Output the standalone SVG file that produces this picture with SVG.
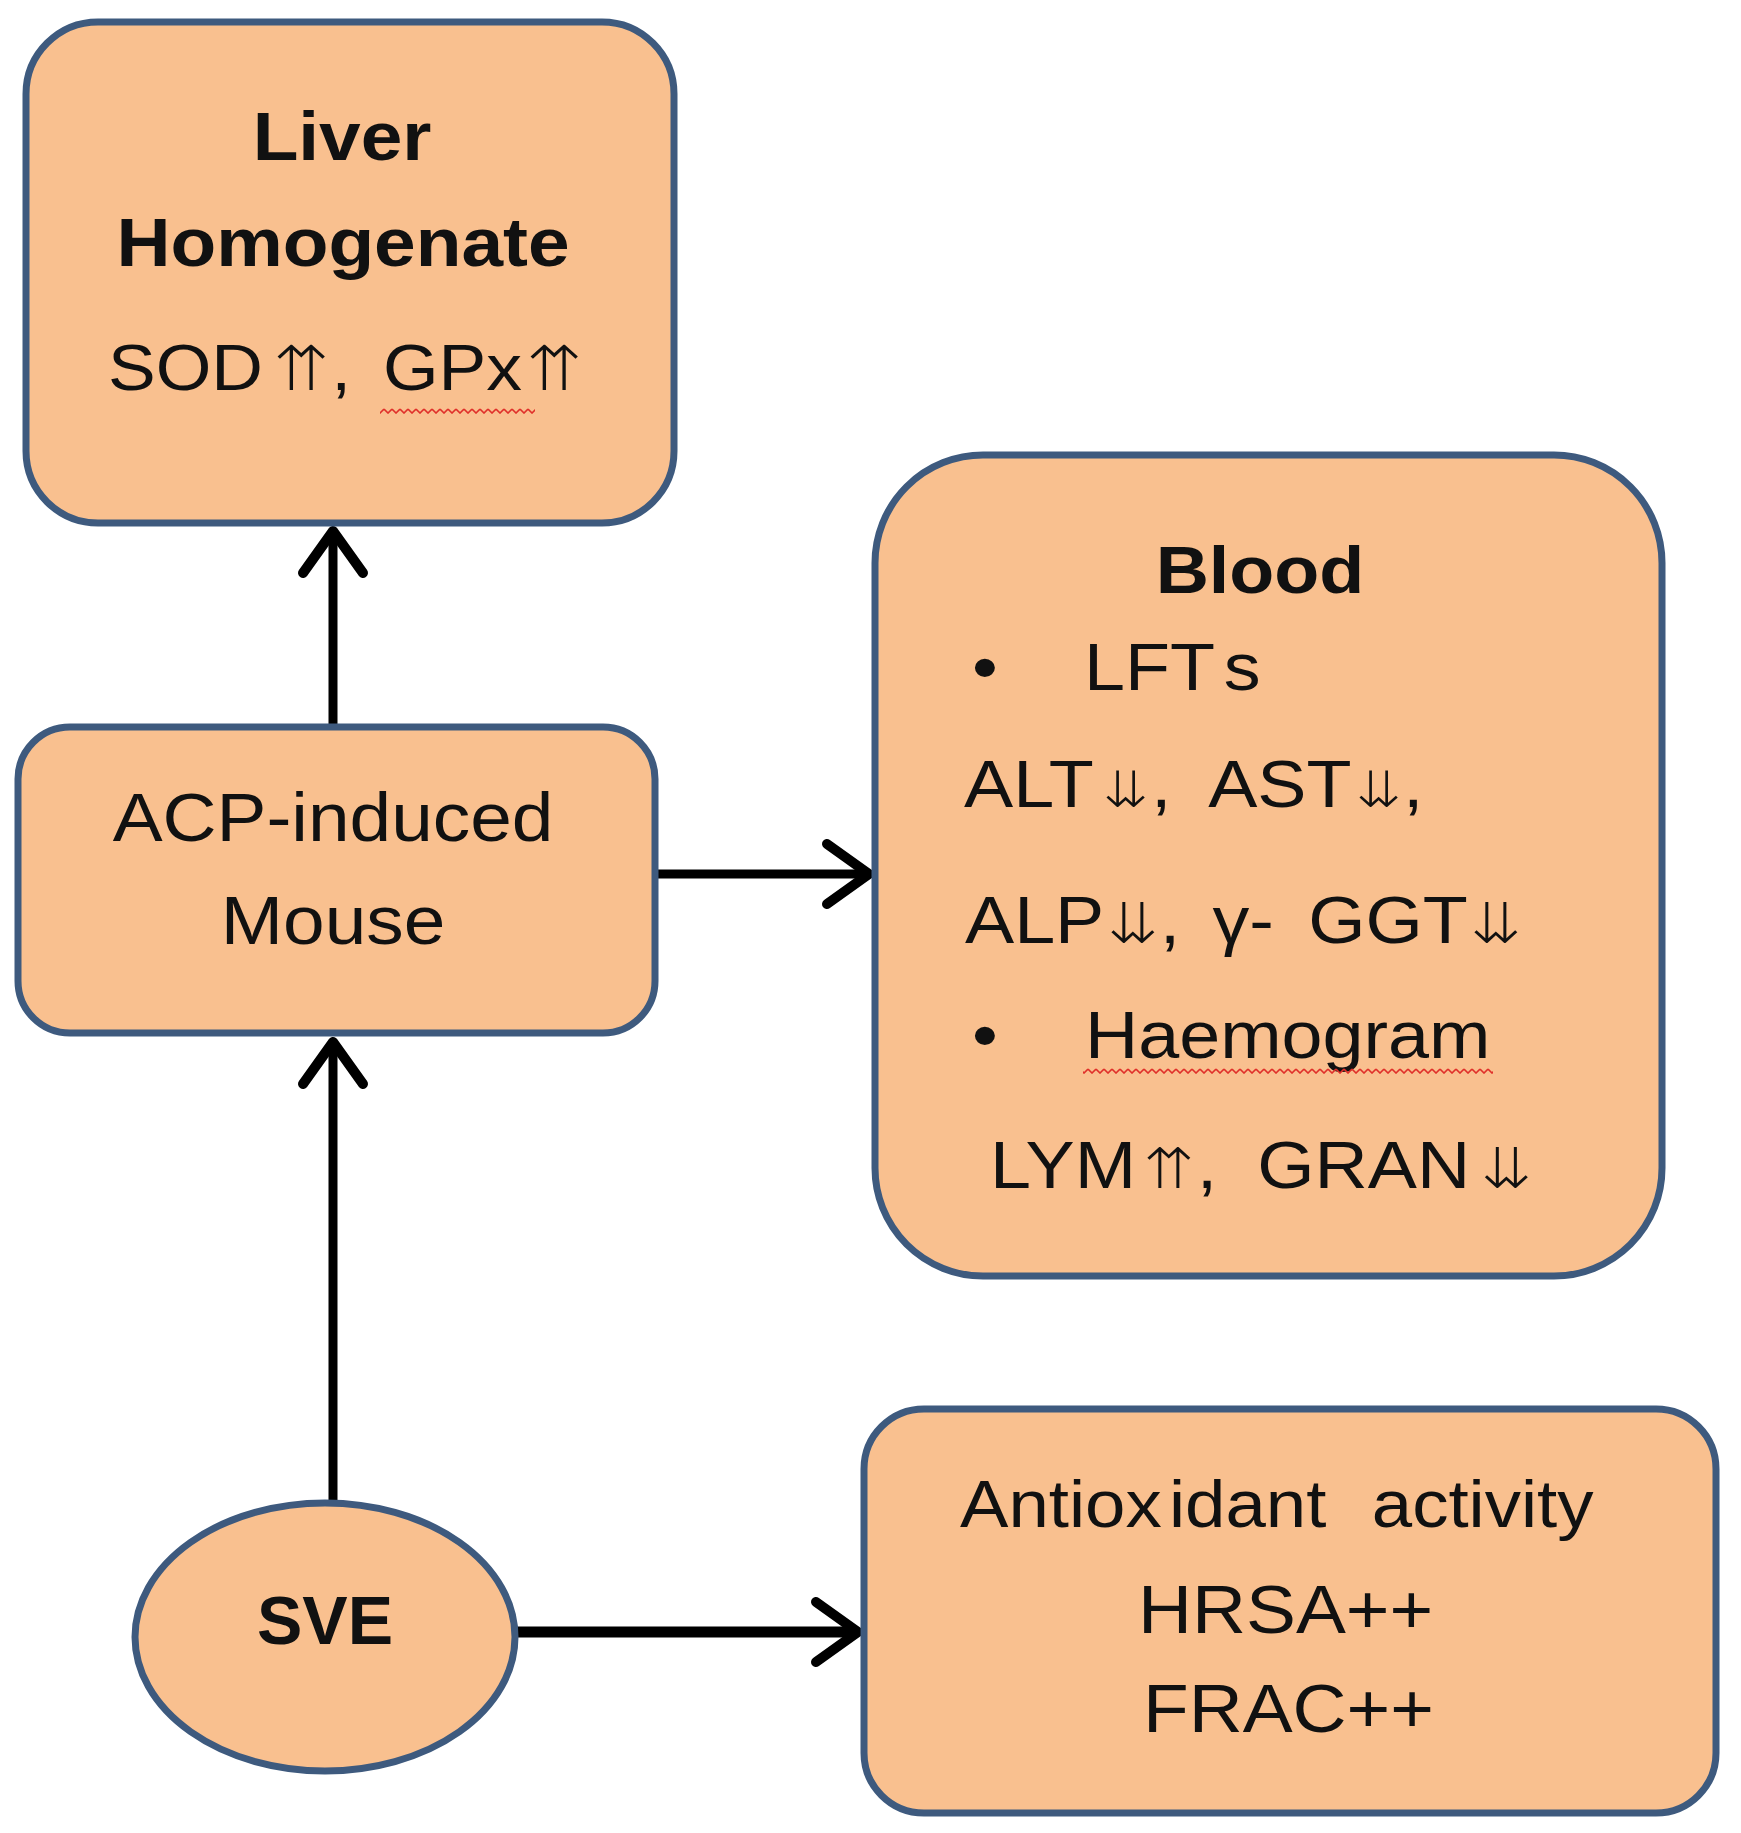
<svg xmlns="http://www.w3.org/2000/svg" width="1741" height="1833" viewBox="0 0 1741 1833">
<style>
.box{fill:#F9C08F;stroke:#3E5A7E;stroke-width:7}
.t{font-family:"Liberation Sans",Arial,sans-serif;fill:#111;font-size:67px}
.b{font-weight:bold}
.ar{font-family:"DejaVu Sans",sans-serif;font-size:56px;font-weight:200}
.sm{font-size:50px}
.lg{font-size:62px}
.con{fill:none;stroke:#000;stroke-width:9}
</style>
<defs>
<marker id="ah" markerUnits="userSpaceOnUse" markerWidth="70" markerHeight="80" viewBox="-55 -40 70 80" refX="0" refY="0" orient="auto">
<path d="M-42,-30 L0,0 L-42,30" fill="none" stroke="#000" stroke-width="10" stroke-linecap="round" stroke-linejoin="round"/>
</marker>
<pattern id="wave" patternUnits="userSpaceOnUse" x="0" y="0" width="8" height="6">
<polyline points="0,1 4,5 8,1" fill="none" stroke="#E0302A" stroke-width="1.6"/>
</pattern>
</defs>
<rect width="1741" height="1833" fill="#fff"/>

<g id="connectors">
<line class="con" x1="333" y1="727" x2="333" y2="531" marker-end="url(#ah)"/>
<line class="con" x1="655" y1="874" x2="869" y2="874" marker-end="url(#ah)"/>
<line class="con" x1="333" y1="1503" x2="333" y2="1042" marker-end="url(#ah)"/>
<line class="con" style="stroke-width:11" x1="515" y1="1632" x2="858" y2="1632" marker-end="url(#ah)"/>
</g>

<g id="liver">
<rect class="box" x="26" y="22" width="648" height="501" rx="72"/>
<text class="t b" text-anchor="middle" transform="translate(342 160) scale(1.1 1)" style="font-size:68px">Liver</text>
<text class="t b" text-anchor="middle" transform="translate(343 266) scale(1.1 1)" style="font-size:68px">Homogenate</text>
<text class="t" transform="translate(108 390) scale(1.1 1)" style="font-size:65px">SOD<tspan class="ar lg" x="150">⇈</tspan><tspan x="203">,</tspan><tspan x="250">GPx</tspan><tspan class="ar lg" x="380">⇈</tspan></text>
<rect x="380" y="408" width="155" height="6" fill="url(#wave)"/>
</g>

<g id="acp">
<rect class="box" x="18" y="727" width="637" height="306" rx="52"/>
<text class="t" text-anchor="middle" transform="translate(333 841) scale(1.1 1)" style="font-size:68px">ACP-induced</text>
<text class="t" text-anchor="middle" transform="translate(333 944) scale(1.1 1)" style="font-size:68px">Mouse</text>
</g>

<g id="blood">
<rect class="box" x="875" y="455" width="787" height="821" rx="108"/>
<text class="t b" text-anchor="middle" transform="translate(1260 593) scale(1.1 1)">Blood</text>
<text class="t" text-anchor="middle" transform="translate(985 690) scale(1.1 1)">•</text>
<text class="t" transform="translate(1084 690) scale(1.1 1)">LFT<tspan dx="8">s</tspan></text>
<text class="t" transform="translate(964 807) scale(1.1 1)">ALT<tspan class="ar sm" x="126">⇊</tspan><tspan x="170">,</tspan><tspan x="222">AST</tspan><tspan class="ar sm" x="356">⇊</tspan><tspan x="399">,</tspan></text>
<text class="t" transform="translate(965 943) scale(1.1 1)">ALP<tspan class="ar" x="129">⇊</tspan><tspan x="177">,</tspan><tspan x="225">γ-</tspan><tspan x="312">GGT</tspan><tspan class="ar" x="459">⇊</tspan></text>
<text class="t" text-anchor="middle" transform="translate(985 1058) scale(1.1 1)">•</text>
<text class="t" transform="translate(1085 1058) scale(1.1 1)">Haemogram</text>
<rect x="1083" y="1068" width="410" height="6" fill="url(#wave)"/>
<text class="t" transform="translate(990 1188) scale(1.1 1)">LYM<tspan class="ar" x="139">⇈</tspan><tspan x="188">,</tspan><tspan x="243">GRAN</tspan><tspan class="ar" x="446">⇊</tspan></text>
</g>

<g id="sve">
<ellipse class="box" cx="325" cy="1637" rx="190" ry="134"/>
<text class="t b" text-anchor="middle" x="325" y="1644" style="font-size:68px">SVE</text>
</g>

<g id="antioxidant">
<rect class="box" x="864" y="1409" width="852" height="404" rx="60"/>
<text class="t" transform="translate(960 1527) scale(1.1 1)" style="font-size:66px">Antiox<tspan x="190">idant</tspan><tspan x="356"> activity</tspan></text>
<text class="t" transform="translate(1138 1633) scale(1.1 1)" style="font-size:68px">HRSA++</text>
<text class="t" transform="translate(1143 1732) scale(1.1 1)" style="font-size:68px">FRAC++</text>
</g>
</svg>
